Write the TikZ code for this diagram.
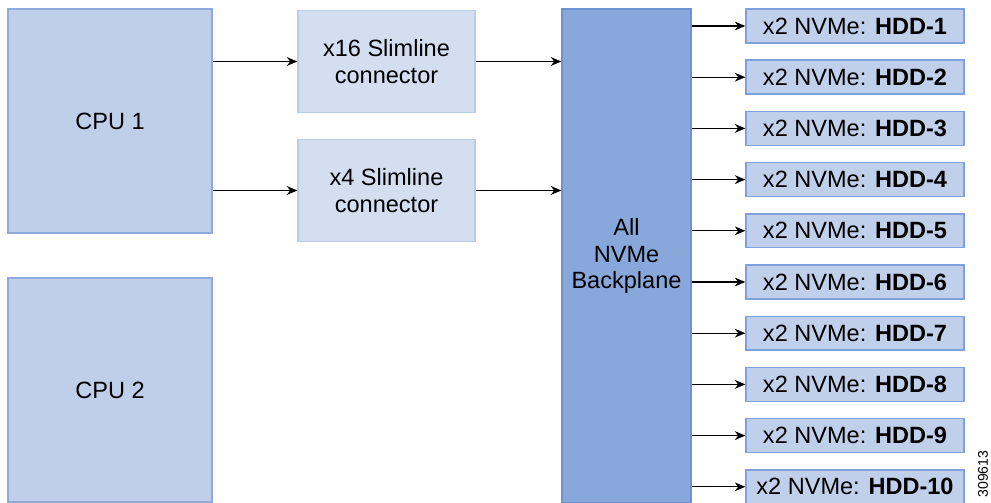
\documentclass[tikz,border=0pt]{standalone}
\usepackage{fontspec}
\setmainfont{Liberation Sans}
\usetikzlibrary{arrows.meta}

\definecolor{cpufill}{HTML}{BFCFEA}
\definecolor{cpuline}{HTML}{8EABDC}
\definecolor{slimfill}{HTML}{D3DEF1}
\definecolor{slimline}{HTML}{B9CCEA}
\definecolor{bpfill}{HTML}{88A7DB}
\definecolor{bpline}{HTML}{6D91D1}
\definecolor{hddfill}{HTML}{C0D0EB}
\definecolor{hddline}{HTML}{7EA1DC}

\tikzset{
  txt/.style={font=\fontsize{13.4}{15}\selectfont, align=center, inner sep=0pt},
  cpubox/.style={txt, draw=cpuline, fill=cpufill, line width=0.8pt, minimum width=4.08cm, minimum height=4.48cm},
  slimbox/.style={txt, draw=slimline, fill=slimfill, line width=0.8pt, minimum width=3.54cm, minimum height=2.04cm},
  bpbox/.style={txt, draw=bpline, fill=bpfill, line width=0.8pt, minimum width=2.58cm, minimum height=9.88cm},
  hddbox/.style={txt, draw=hddline, fill=hddfill, line width=0.8pt, minimum width=4.36cm, minimum height=0.68cm},
  link/.style={line width=0.6pt, -{Stealth[length=6pt,width=5pt]}}
}

\begin{document}
\begin{tikzpicture}[x=0.02cm, y=-0.02cm]
\useasboundingbox (0,0) rectangle (991,503);
\node[cpubox] (cpu1) at (110,121) {CPU 1};
\node[cpubox] (cpu2) at (110,390) {CPU 2};
\node[slimbox] (x16) at (386.5,61.5) {x16 Slimline\\connector};
\node[slimbox] (x4) at (386.5,190.5) {x4 Slimline\\connector};
\node[bpbox] (bp) at (626.5,256) {All\\NVMe\\Backplane};
\node[hddbox] (hdd1) at (855,26) {x2 NVMe: \textbf{HDD-1}};
\node[hddbox] (hdd2) at (855,77.2) {x2 NVMe: \textbf{HDD-2}};
\node[hddbox] (hdd3) at (855,128.4) {x2 NVMe: \textbf{HDD-3}};
\node[hddbox] (hdd4) at (855,179.6) {x2 NVMe: \textbf{HDD-4}};
\node[hddbox] (hdd5) at (855,230.8) {x2 NVMe: \textbf{HDD-5}};
\node[hddbox] (hdd6) at (855,282) {x2 NVMe: \textbf{HDD-6}};
\node[hddbox] (hdd7) at (855,333.2) {x2 NVMe: \textbf{HDD-7}};
\node[hddbox] (hdd8) at (855,384.4) {x2 NVMe: \textbf{HDD-8}};
\node[hddbox] (hdd9) at (855,435.6) {x2 NVMe: \textbf{HDD-9}};
\node[hddbox] (hdd10) at (855,486.8) {x2 NVMe: \textbf{HDD-10}};
\node[font=\fontsize{8}{9}\selectfont, rotate=90, inner sep=0pt] (figno) at (983,474) {309613};

\draw[link] (cpu1.east |- x16) -- (x16);
\draw[link] (cpu1.east |- x4) -- (x4);
\draw[link] (x16) -- (bp.west |- x16);
\draw[link] (x4) -- (bp.west |- x4);
\draw[link] (bp.east |- hdd1) -- (hdd1);
\draw[link] (bp.east |- hdd2) -- (hdd2);
\draw[link] (bp.east |- hdd3) -- (hdd3);
\draw[link] (bp.east |- hdd4) -- (hdd4);
\draw[link] (bp.east |- hdd5) -- (hdd5);
\draw[link] (bp.east |- hdd6) -- (hdd6);
\draw[link] (bp.east |- hdd7) -- (hdd7);
\draw[link] (bp.east |- hdd8) -- (hdd8);
\draw[link] (bp.east |- hdd9) -- (hdd9);
\draw[link] (bp.east |- hdd10) -- (hdd10);
\end{tikzpicture}
\end{document}
